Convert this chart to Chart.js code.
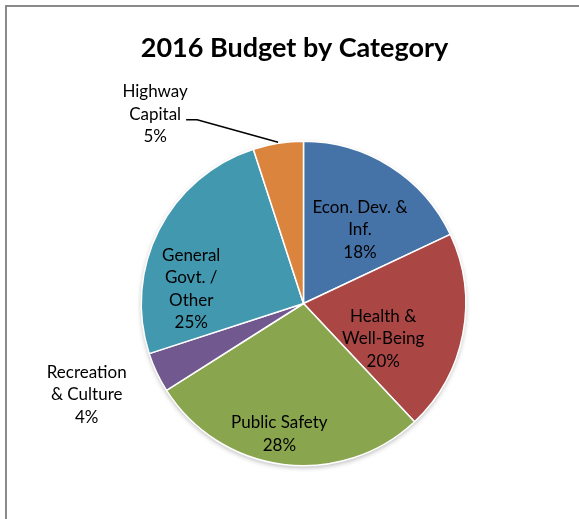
<!DOCTYPE html>
<html>
<head>
<meta charset="utf-8">
<script src="https://cdn.jsdelivr.net/npm/chart.js@4.4.0/dist/chart.umd.min.js"></script>
<style>
  html, body { margin: 0; padding: 0; background: #fff; }
  #wrap { position: relative; width: 579px; height: 519px; overflow: hidden; }
  #frame { position: absolute; left: 5px; top: 5px; width: 620px; height: 620px; border: 2px solid #8a8a8a; }
  #chart { position: absolute; left: 0; top: 0; }
</style>
</head>
<body>
<div id="wrap">
  <div id="frame"></div>
  <canvas id="chart" width="579" height="519"></canvas>
</div>
<script>
  // ------------------------------------------------------
  // @Data
  // ------------------------------------------------------

  const chartTitle = '2016 Budget by Category';
  const categories = [
    ['Econ. Dev. &', 'Inf.'],
    ['Health &', 'Well-Being'],
    ['Public Safety'],
    ['Recreation', '& Culture'],
    ['General', 'Govt. /', 'Other'],
    ['Highway', 'Capital'],
  ];
  const shares = [18, 20, 28, 4, 25, 5];

  // ------------------------------------------------------
  // @Styles
  // ------------------------------------------------------

  const sliceColors = ['#4572a7', '#aa4643', '#89a54e', '#71588f', '#4198af', '#db843d'];
  const labelFont = '17px Lato';
  const lineHeight = 22.5;

  // where each label sits: from slice middle (or outer edge) plus a shift
  const labelPlace = [
    { dx: 13,   dy: -5 },
    { dx: 0,    dy: 20 },
    { dx: -14,  dy: 50 },
    { dx: -70,  dy: 22, edge: true },
    { dx: -40,  dy: 22.5 },
    { dx: -123, dy: -29, edge: true, leader: true },
  ];

  const sliceLabels = {
    id: 'sliceLabels',
    beforeDatasetsDraw(chart) {
      // soft shadow under the pie
      const arc = chart.getDatasetMeta(0).data[0];
      if (!arc) return;
      const { x, y, outerRadius } = arc.getProps(['x', 'y', 'outerRadius'], true);
      const ctx = chart.ctx;
      ctx.save();
      ctx.shadowColor = 'rgba(0, 0, 0, 0.28)';
      ctx.shadowBlur = 5;
      ctx.shadowOffsetY = 2;
      ctx.fillStyle = '#fff';
      ctx.beginPath();
      ctx.arc(x, y, outerRadius, 0, Math.PI * 2);
      ctx.fill();
      ctx.restore();
    },
    afterDatasetsDraw(chart) {
      const ctx = chart.ctx;
      const arcs = chart.getDatasetMeta(0).data;
      const total = shares.reduce((a, b) => a + b, 0);

      ctx.save();
      ctx.fillStyle = '#000';
      ctx.textAlign = 'center';
      ctx.textBaseline = 'middle';

      ctx.font = 'bold 27px Lato';
      ctx.fillText(chartTitle, 294.5, 48);

      ctx.font = labelFont;
      arcs.forEach((arc, i) => {
        const p = arc.getProps(['x', 'y', 'startAngle', 'endAngle', 'outerRadius'], true);
        const mid = (p.startAngle + p.endAngle) / 2;
        const place = labelPlace[i];
        const r = place.edge ? p.outerRadius : p.outerRadius / 2;
        const ax = p.x + Math.cos(mid) * r;
        const ay = p.y + Math.sin(mid) * r;
        const cx = ax + place.dx;
        const cy = ay + place.dy;
        const lines = categories[i].concat(Math.round(shares[i] / total * 100) + '%');

        lines.forEach((text, k) => {
          ctx.fillText(text, cx, cy + (k - (lines.length - 1) / 2) * lineHeight);
        });

        if (place.leader) {
          ctx.strokeStyle = '#000';
          ctx.lineWidth = 1.5;
          ctx.beginPath();
          ctx.moveTo(cx + 31, cy + 5.5);
          ctx.lineTo(cx + 42, cy + 5.5);
          ctx.lineTo(ax, ay - 1);
          ctx.stroke();
        }
      });
      ctx.restore();
    },
  };

  // ------------------------------------------------------
  // @Pie Chart
  // ------------------------------------------------------

  const pieChartBox = document.getElementById('chart');

  if (pieChartBox) {
    const pieCtx = pieChartBox.getContext('2d');

    new Chart(pieCtx, {
      type: 'pie',
      data: {
        labels: categories.map(c => c.join(' ')),
        datasets: [{
          data            : shares,
          backgroundColor : sliceColors,
          borderColor     : '#ffffff',
          borderWidth     : 1.5,
          hoverOffset     : 0,
        }],
      },
      options: {
        responsive: false,
        animation: false,
        events: [],
        layout: {
          padding: { left: 140.5, right: 112.5, top: 140.5, bottom: 52.5 },
        },
        plugins: {
          legend: { display: false },
          tooltip: { enabled: false },
          title: { display: false },
        },
      },
      plugins: [sliceLabels],
    });
  }
</script>
</body>
</html>
